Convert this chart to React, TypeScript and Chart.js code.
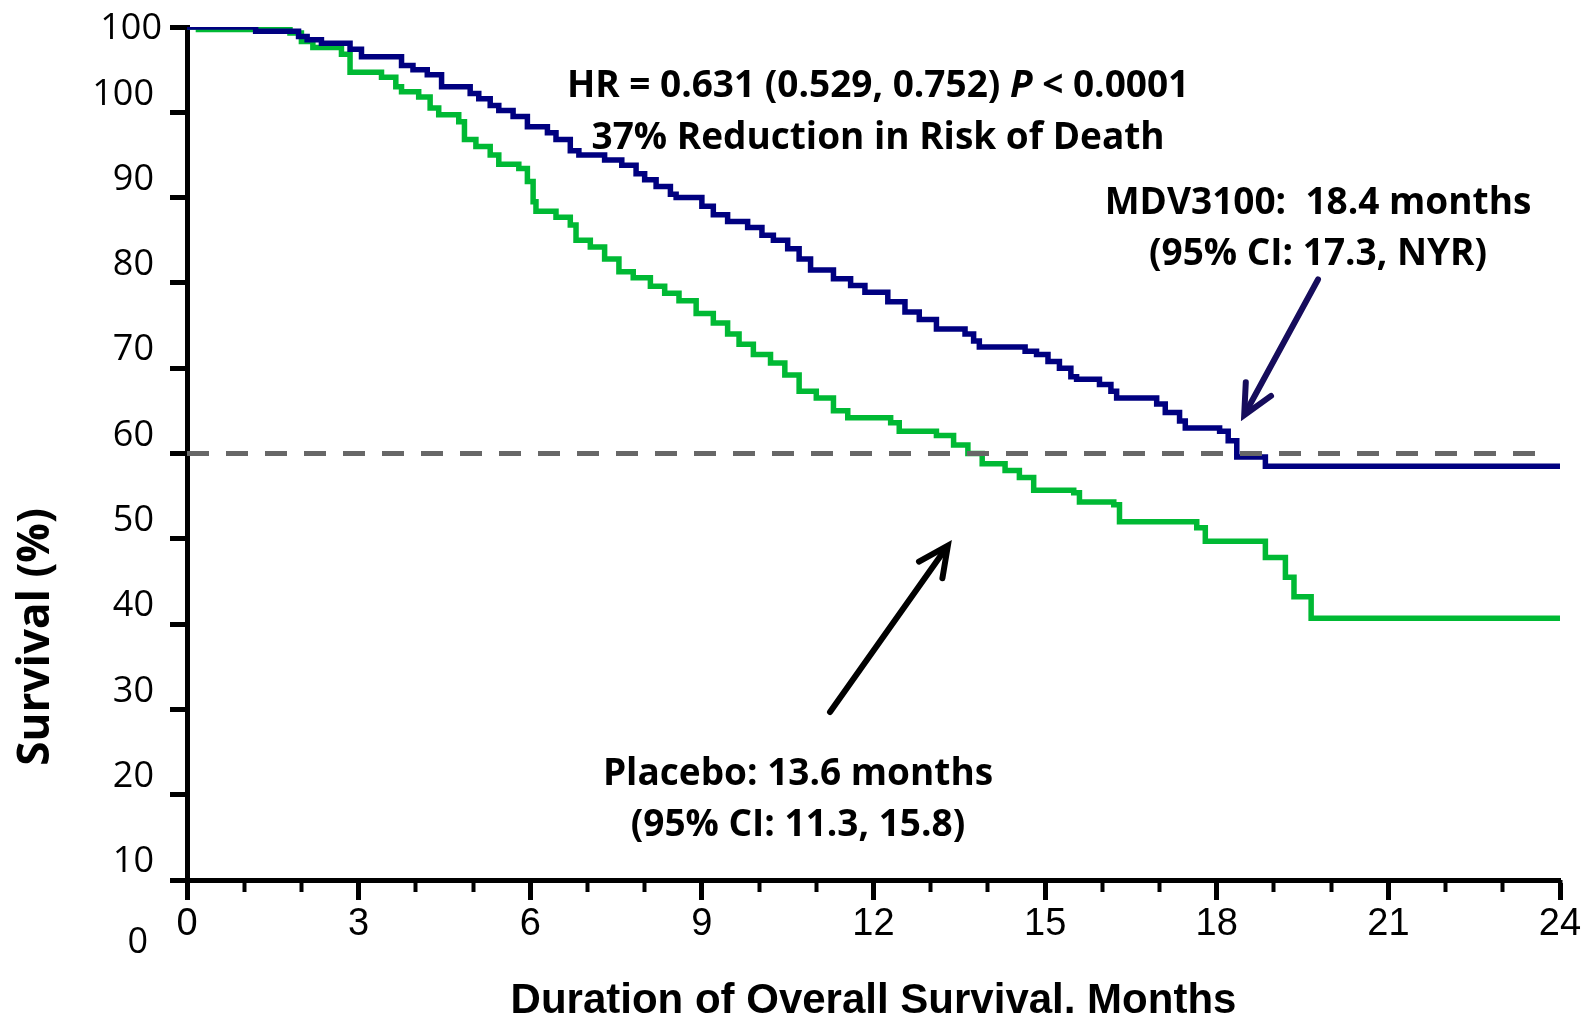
import React, { useEffect, useRef } from "react";
import { Chart, registerables } from "chart.js";

Chart.register(...registerables);

// ---------------- data ----------------
// MDV3100 arm (Kaplan-Meier step points: month, survival %)
const mdvTimes = [
  0, 1.2, 1.95, 2.1, 2.35, 2.85, 3.05, 3.75, 3.95, 4.2, 4.45, 4.95, 5.1, 5.3, 5.45,
  5.7, 5.95, 6.3, 6.45, 6.7, 6.85, 7.3, 7.6, 7.85, 8.0, 8.2, 8.45, 8.55, 9.0, 9.2,
  9.45, 9.8, 10.05, 10.25, 10.5, 10.7, 10.9, 11.3, 11.6, 11.85, 12.25, 12.55, 12.8,
  13.1, 13.6, 13.75, 13.85, 14.65, 14.85, 15.05, 15.25, 15.45, 15.55, 15.95, 16.15,
  16.25, 16.95, 17.1, 17.35, 17.45, 18.05, 18.2, 18.35, 18.85, 24,
];
const mdvSurvival = [
  100, 99.5, 98.9, 98.5, 98.1, 97.4, 96.5, 95.5, 95.0, 94.4, 93.0, 92.2, 91.6, 90.8, 90.2,
  89.5, 88.3, 87.6, 86.8, 85.5, 85.0, 84.4, 83.8, 82.8, 82.1, 81.3, 80.4, 80.0, 79.0, 78.0,
  77.2, 76.5, 75.6, 75.0, 74.0, 72.8, 71.5, 70.5, 69.7, 68.9, 67.8, 66.6, 65.7,
  64.6, 64.0, 63.2, 62.5, 62.0, 61.6, 60.8, 60.0, 59.0, 58.7, 58.1, 57.3,
  56.5, 55.8, 54.8, 53.8, 53.0, 52.6, 51.5, 49.6, 48.5, 48.5,
];

// Placebo arm
const placeboTimes = [
  0, 0.2, 1.8, 2.0, 2.2, 2.7, 2.85, 3.4, 3.65, 3.75, 4.05, 4.25, 4.4, 4.75, 4.85, 5.05,
  5.3, 5.45, 5.8, 5.95, 6.05, 6.1, 6.45, 6.7, 6.8, 7.05, 7.3, 7.55, 7.8, 8.1, 8.35, 8.6,
  8.9, 9.2, 9.45, 9.65, 9.9, 10.2, 10.45, 10.7, 11.0, 11.3, 11.55, 12.3, 12.45, 13.1,
  13.4, 13.65, 13.9, 14.3, 14.55, 14.8, 15.5, 15.6, 16.2, 16.3, 17.65, 17.8, 18.85,
  19.2, 19.35, 19.65, 24,
];
const placeboSurvival = [
  100, 99.7, 99.3, 98.3, 97.6, 96.8, 94.7, 94.1, 93.0, 92.4, 91.8, 90.5, 89.7, 88.9, 86.8, 86.0,
  85.0, 83.9, 83.4, 81.9, 79.5, 78.4, 77.7, 76.8, 75.0, 74.2, 72.8, 71.3, 70.6, 69.6, 68.8, 67.9,
  66.4, 65.3, 64.0, 62.8, 61.6, 60.6, 59.2, 57.3, 56.5, 55.0, 54.2, 53.6, 52.6, 52.1,
  51.0, 50.0, 48.8, 48.0, 47.2, 45.7, 45.4, 44.3, 44.0, 42.0, 41.3, 39.7, 37.8,
  35.5, 33.2, 30.7, 30.7,
];

// median reference line
const medianTimes = [0, 23.7];
const medianSurvival = [50, 50];

// axes
const xMin = 0;
const xMax = 24;
const xMajorStep = 3;
const xMinorStep = 1;
const yMin = 0;
const yMax = 100;
const yStep = 10;
// labels printed beside the y ticks 0,10,...,100 (as in the picture)
const yTickLabels = ["10", "20", "30", "40", "50", "60", "70", "80", "90", "100", ""];
// extra y labels (text, value)
const yExtraLabelTexts = ["100", "0"];
const yExtraLabelValues = [100, -7.3];

// annotation texts: [month, survival] anchor of each line centre
const noteTexts = [
  [["HR = 0.631 (0.529, 0.752) ", false], ["P", true], [" < 0.0001", false]],
  [["37% Reduction in Risk of Death", false]],
  [["MDV3100:  18.4 months", false]],
  [["(95% CI: 17.3, NYR)", false]],
  [["Placebo: 13.6 months", false]],
  [["(95% CI: 11.3, 15.8)", false]],
] as [string, boolean][][];
const noteMonths = [12.08, 12.08, 19.77, 19.77, 10.68, 10.68];
const noteSurvival = [93.0, 86.9, 79.3, 73.3, 12.4, 6.4];

// arrows: from [month, %] to [month, %]
const arrowFrom = [
  [11.24, 19.7],
  [19.77, 70.4],
];
const arrowTo = [
  [13.3, 39.2],
  [18.48, 54.5],
];
const arrowColors = ["#000000", "#160c5c"];

const FONT_SANS = '"Open Sans", "Noto Sans", sans-serif';
const FONT_ARIAL = '"Liberation Sans", Arial, sans-serif';
const FONT_NARROW = '"Liberation Sans Narrow", "Liberation Sans", Arial, sans-serif';

const overlayPlugin = {
  id: "overlay",
  afterDatasetsDraw(chart: any) {
    const { ctx } = chart;
    const x = chart.scales.x;
    const y = chart.scales.y;

    // arrows
    for (let i = 0; i < arrowFrom.length; i++) {
      const x1 = x.getPixelForValue(arrowFrom[i][0]);
      const y1 = y.getPixelForValue(arrowFrom[i][1]);
      const x2 = x.getPixelForValue(arrowTo[i][0]);
      const y2 = y.getPixelForValue(arrowTo[i][1]);
      const ang = Math.atan2(y1 - y2, x1 - x2);
      ctx.save();
      ctx.strokeStyle = arrowColors[i];
      ctx.lineWidth = 6;
      ctx.lineCap = "round";
      ctx.lineJoin = "miter";
      ctx.beginPath();
      ctx.moveTo(x1, y1);
      ctx.lineTo(x2 + 3 * Math.cos(ang), y2 + 3 * Math.sin(ang));
      ctx.stroke();
      const len = 33;
      const a1 = ang - 0.45;
      const a2 = ang + 0.45;
      ctx.beginPath();
      ctx.moveTo(x2 + len * Math.cos(a1), y2 + len * Math.sin(a1));
      ctx.lineTo(x2, y2);
      ctx.lineTo(x2 + len * Math.cos(a2), y2 + len * Math.sin(a2));
      ctx.stroke();
      ctx.restore();
    }

    // annotation texts
    ctx.save();
    ctx.fillStyle = "#000";
    ctx.textBaseline = "middle";
    ctx.textAlign = "left";
    for (let i = 0; i < noteTexts.length; i++) {
      const cx = x.getPixelForValue(noteMonths[i]);
      const cy = y.getPixelForValue(noteSurvival[i]);
      const segs = noteTexts[i];
      let total = 0;
      const widths: number[] = [];
      for (const [t, it] of segs) {
        ctx.font = `${it ? "italic " : ""}bold 37px ${FONT_SANS}`;
        const w = ctx.measureText(t).width;
        widths.push(w);
        total += w;
      }
      let sx = cx - total / 2;
      segs.forEach(([t, it], k) => {
        ctx.font = `${it ? "italic " : ""}bold 37px ${FONT_SANS}`;
        ctx.fillText(t, sx, cy);
        sx += widths[k];
      });
    }
    ctx.restore();
  },
  afterDraw(chart: any) {
    const { ctx, chartArea } = chart;
    const x = chart.scales.x;
    const y = chart.scales.y;
    ctx.save();
    ctx.fillStyle = "#000";
    // extra y labels
    ctx.font = `36px ${FONT_SANS}`;
    ctx.textAlign = "right";
    ctx.textBaseline = "middle";
    ctx.fillText(yExtraLabelTexts[0], chartArea.left - 25, y.getPixelForValue(yExtraLabelValues[0]) + 2);
    ctx.fillText(yExtraLabelTexts[1], chartArea.left - 39, y.getPixelForValue(yExtraLabelValues[1]));

    // y title
    ctx.save();
    ctx.translate(36, y.getPixelForValue(28.5));
    ctx.rotate(-Math.PI / 2);
    ctx.textAlign = "center";
    ctx.font = `bold 44px ${FONT_SANS}`;
    ctx.fillText("Survival (%)", 0, 0);
    ctx.restore();

    // x title
    ctx.textAlign = "center";
    ctx.textBaseline = "alphabetic";
    ctx.font = `bold 42px ${FONT_ARIAL}`;
    ctx.fillText("Duration of Overall Survival, Months", x.getPixelForValue(12), chartArea.bottom + 133);
    ctx.restore();
  },
};

export default function App() {
  const ref = useRef<HTMLCanvasElement | null>(null);

  useEffect(() => {
    document.body.style.margin = "0";
    const canvas = ref.current;
    if (!canvas) return;

    const chart = new Chart(canvas, {
      type: "line",
      data: {
        datasets: [
          {
            label: "Median",
            data: medianTimes.map((t, i) => ({ x: t, y: medianSurvival[i] })),
            borderColor: "#676767",
            borderWidth: 5,
            borderDash: [22, 17],
            borderCapStyle: "butt",
            pointRadius: 0,
            fill: false,
          },
          {
            label: "MDV3100",
            data: mdvTimes.map((t, i) => ({ x: t, y: mdvSurvival[i] })),
            borderColor: "#000080",
            borderWidth: 5.5,
            stepped: "before",
            pointRadius: 0,
            fill: false,
          },
          {
            label: "Placebo",
            data: placeboTimes.map((t, i) => ({ x: t, y: placeboSurvival[i] })),
            borderColor: "#00b934",
            borderWidth: 5.5,
            stepped: "before",
            pointRadius: 0,
            fill: false,
          },
        ],
      },
      options: {
        responsive: false,
        animation: false,
        devicePixelRatio: 1,
        layout: { padding: { top: 27, right: 35, left: 0, bottom: 0 } },
        plugins: {
          legend: { display: false },
          tooltip: { enabled: false },
          title: { display: false },
        },
        scales: {
          xMinor: {
            type: "linear",
            position: "bottom",
            weight: 0,
            min: xMin,
            max: xMax,
            ticks: { stepSize: xMinorStep, display: false },
            grid: {
              drawOnChartArea: false,
              drawTicks: true,
              tickLength: 12,
              tickWidth: 4,
              tickColor: "#000",
              color: "#000",
            },
            border: { display: false },
            afterFit: (s: any) => {
              s.height = 0;
              s.paddingLeft = 0;
              s.paddingRight = 0;
            },
          },
          x: {
            type: "linear",
            position: "bottom",
            weight: 1,
            min: xMin,
            max: xMax,
            ticks: {
              stepSize: xMajorStep,
              color: "#000",
              padding: 2,
              maxRotation: 0,
              font: { family: FONT_NARROW, size: 38 },
            },
            grid: {
              drawOnChartArea: false,
              drawTicks: true,
              tickLength: 20,
              tickWidth: 5,
              tickColor: "#000",
              color: "#000",
            },
            border: { display: true, color: "#000", width: 5 },
            afterFit: (s: any) => {
              s.height = 133;
              s.paddingLeft = 0;
              s.paddingRight = 0;
            },
          },
          y: {
            type: "linear",
            position: "left",
            min: yMin,
            max: yMax,
            ticks: {
              stepSize: yStep,
              color: "#000",
              padding: 16,
              labelOffset: -18,
              font: { family: FONT_SANS, size: 36 },
              callback: (_v: any, i: number) => yTickLabels[i],
            },
            grid: {
              drawOnChartArea: false,
              drawTicks: true,
              tickLength: 17,
              tickWidth: 5,
              tickColor: "#000",
              color: "#000",
            },
            border: { display: true, color: "#000", width: 5 },
            afterFit: (s: any) => {
              s.width = 187;
              s.paddingTop = 0;
              s.paddingBottom = 0;
            },
          },
        },
      },
      plugins: [overlayPlugin],
    } as any);

    return () => chart.destroy();
  }, []);

  return (
    <div style={{ width: 1595, height: 1013, background: "#fff" }}>
      <canvas ref={ref} width={1595} height={1013} style={{ display: "block", width: 1595, height: 1013 }} />
    </div>
  );
}
